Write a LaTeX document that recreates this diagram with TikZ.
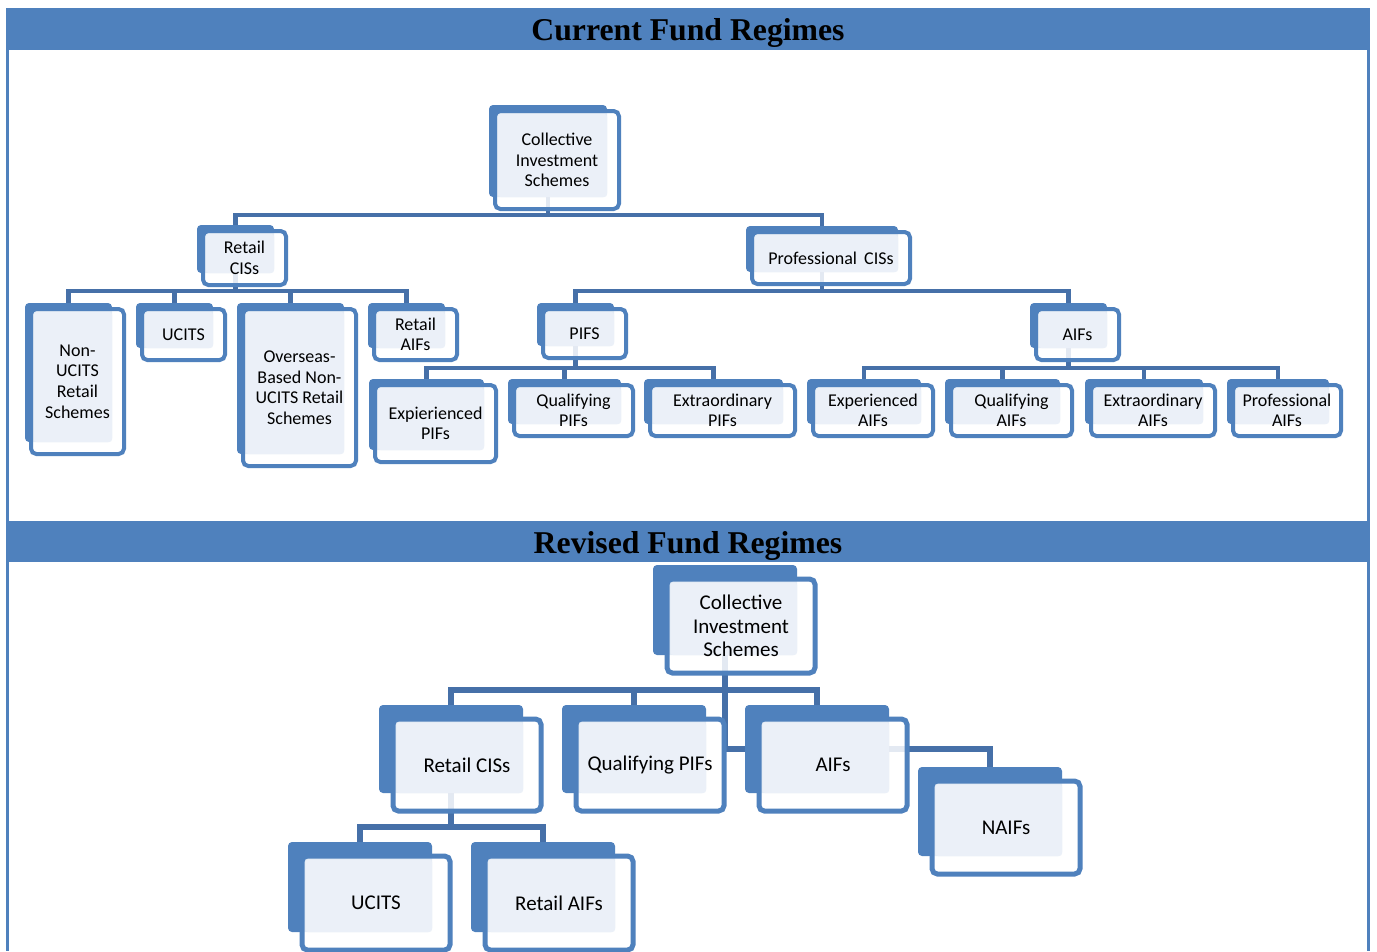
\documentclass[tikz,border=0pt]{standalone}
\usepackage{fontspec}
\setmainfont{Carlito}
\newfontfamily\titlefont{Liberation Serif}
\usetikzlibrary{calc}
\definecolor{boxblue}{HTML}{4F81BD}
\definecolor{lightfill}{HTML}{EBF0F8}
\definecolor{connblue}{HTML}{4670A8}
\pgfdeclarelayer{paper}
\pgfdeclarelayer{bg}
\pgfsetlayers{paper,bg,main}
\newcommand\olw{4}
\newcommand\offa{6}
\newcommand\offb{12}
% name x0 y0 x1 y1 text style
\newcommand\fbx[7]{%
  \node[inner sep=0pt, minimum width={(#4-#2)*0.75pt}, minimum height={(#5-#3)*0.75pt}] (#1) at ({(#2+#4)/2},{(#3+#5)/2}) {};
  \fill[boxblue, rounded corners=3pt] (#2,#3) rectangle (#4,#5);
  \filldraw[fill=white, fill opacity=0.85, draw=boxblue, line width={\olw*0.75pt}, rounded corners=4pt] ({#2+\offa},{#3+\offa}) rectangle ({#4+\offb},{#5+\offb});
  \fill[lightfill, rounded corners=2pt] ({#2+\offa+\olw/2+1},{#3+\offa+\olw/2+1}) rectangle (#4,#5);
  \node[#7] (#1-t) at ({(#2+#4+\offa+\offb)/2},{(#3+#5+\offa+\offb)/2}) {#6};
}
\tikzset{
  toptxt/.style={font=\fontsize{13.5}{15.4}\selectfont, align=center, text=black, inner sep=0pt},
  bottxt/.style={font=\fontsize{15.75}{17.6}\selectfont, align=center, text=black, inner sep=0pt},
  titletxt/.style={font=\titlefont\bfseries\fontsize{23.8}{26}\selectfont, text=black, inner sep=0pt, anchor=base},
  conn/.style={draw=connblue, line width=3.6pt},
  connb/.style={draw=connblue, line width=3.8pt},
}
\begin{document}
\begin{tikzpicture}[x=0.75pt, y=-0.75pt]
\useasboundingbox (0,0) rectangle (1377,951);
\begin{pgfonlayer}{paper}
\fill[white] (0,0) rectangle (1377,951);
\end{pgfonlayer}
% frame
\fill[boxblue] (6,8) rectangle (1370,50);
\node[titletxt] (t1) at (688,40) {Current Fund Regimes};
\fill[boxblue] (6,521) rectangle (1370,562);
\node[titletxt] (t2) at (688,553) {Revised Fund Regimes};
\fill[boxblue] (6,50) rectangle (9,951);
\fill[boxblue] (1367,50) rectangle (1370,951);

% ---------- current regimes ----------
\fbx{cisA}{489}{105}{607}{197}{Collective\\Investment\\Schemes}{toptxt}
\fbx{rcisA}{197}{225}{274}{273}{Retail\\CISs}{toptxt}
\fbx{pcisA}{746}{226}{898}{272}{Professional\hspace{0.4em}CISs}{toptxt}
\fbx{nonucits}{25}{303}{112}{442}{Non-\\UCITS\\Retail\\Schemes}{toptxt}
\fbx{ucitsA}{136}{303}{213}{348}{UCITS}{toptxt}
\fbx{overseas}{237}{303}{344}{454}{Overseas-\\Based Non-\\UCITS Retail\\Schemes}{toptxt}
\fbx{raifsA}{368}{303}{445}{348}{Retail\\AIFs}{toptxt}
\fbx{pifs}{537}{303}{614}{346}{PIFS}{toptxt}
\fbx{aifsA}{1030}{303}{1107}{348}{AIFs}{toptxt}
\fbx{exppifs}{369}{379}{484}{450}{Expierienced\\PIFs}{toptxt}
\fbx{qualpifs}{508}{379}{621}{424}{Qualifying\\PIFs}{toptxt}
\fbx{extrapifs}{644}{379}{783}{424}{Extraordinary\\PIFs}{toptxt}
\fbx{expaifs}{807}{379}{921}{424}{Experienced\\AIFs}{toptxt}
\fbx{qualaifs}{945}{379}{1060}{424}{Qualifying\\AIFs}{toptxt}
\fbx{extraaifs}{1085}{379}{1203}{424}{Extraordinary\\AIFs}{toptxt}
\fbx{profaifs}{1227}{379}{1329}{424}{Professional\\AIFs}{toptxt}

% ---------- revised regimes ----------
\renewcommand\olw{5}
\renewcommand\offa{14}
\renewcommand\offb{18}
\fbx{cisB}{653}{565}{797}{655}{Collective\\Investment\\Schemes}{bottxt}
\fbx{rcisB}{379}{705}{523}{793}{Retail CISs}{bottxt}
\fbx{qpifsB}{562}{705}{706}{793}{Qualifying PIFs}{bottxt}
\fbx{aifsB}{745}{705}{889}{793}{AIFs}{bottxt}
\fbx{naifs}{918}{767}{1062}{856}{NAIFs}{bottxt}
\fbx{ucitsB}{288}{842}{432}{932}{UCITS}{bottxt}
\fbx{raifsB}{471}{842}{615}{932}{Retail AIFs}{bottxt}

\coordinate (busA) at (0,215);
\coordinate (busB) at (0,291);
\coordinate (busC) at (0,368);
\coordinate (busD) at (0,690);
\coordinate (busE) at (0,827);

\begin{pgfonlayer}{bg}
\foreach \c in {rcisA,pcisA}
  \draw[conn] (cisA.south) |- (busA -| \c.north) -- (\c.north);
\foreach \c in {nonucits,ucitsA,overseas,raifsA}
  \draw[conn] (rcisA.south) |- (busB -| \c.north) -- (\c.north);
\foreach \c in {pifs,aifsA}
  \draw[conn] (pcisA.south) |- (busB -| \c.north) -- (\c.north);
\foreach \c in {exppifs,qualpifs,extrapifs}
  \draw[conn] (pifs.south) |- (busC -| \c.north) -- (\c.north);
\foreach \c in {expaifs,qualaifs,extraaifs,profaifs}
  \draw[conn] (aifsA.south) |- (busC -| \c.north) -- (\c.north);
\foreach \c in {rcisB,qpifsB,aifsB}
  \draw[connb] (cisB.south) |- (busD -| \c.north) -- (\c.north);
\draw[connb] (cisB.south) |- (aifsB.west);
\draw[connb] (aifsB.center) -| (naifs.north);
\foreach \c in {ucitsB,raifsB}
  \draw[connb] (rcisB.south) |- (busE -| \c.north) -- (\c.north);
\end{pgfonlayer}
\end{tikzpicture}
\end{document}
